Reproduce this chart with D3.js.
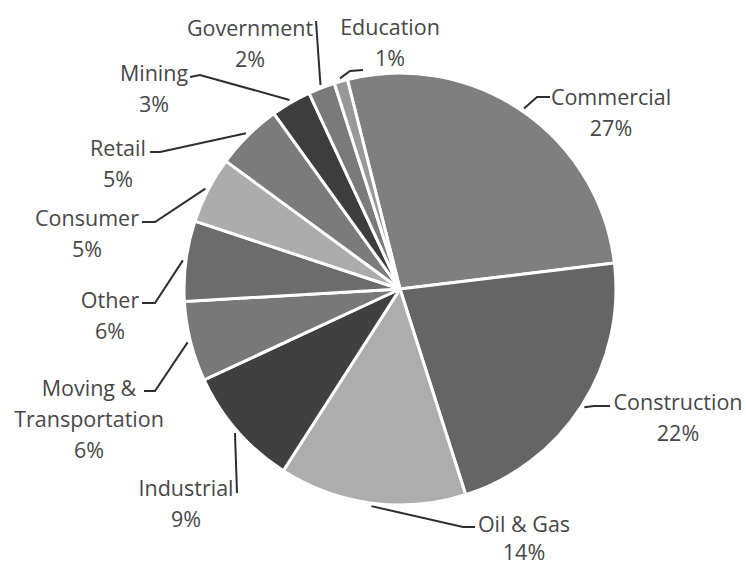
<!DOCTYPE html>
<html>
<head>
<meta charset="utf-8">
<script src="https://cdn.jsdelivr.net/npm/d3@7"></script>
<style>
  body { margin: 0; background: #fff; }
  svg { display: block; }
  .lbl { font-family: "Open Sans", sans-serif; font-size: 21.5px; fill: #474747; }
</style>
</head>
<body>
<svg id="chart" width="746" height="568"></svg>
<script>
// data
const categories = ['Commercial', 'Construction', 'Oil & Gas', 'Industrial', 'Moving & Transportation',
    'Other', 'Consumer', 'Retail', 'Mining', 'Government', 'Education']
const shares = [27, 22, 14, 9, 6, 6, 5, 5, 3, 2, 1]
const fills = ['#7f7f7f', '#656565', '#adadad', '#404040', '#787878',
    '#6c6c6c', '#acacac', '#7b7b7b', '#3d3d3d', '#7a7a7a', '#989898']

// label layout: text lines, centre of first line, line gap, and leader points on the label side
const labelLayout = {
    'Commercial': { lines: ['Commercial', '27%'], x: 611, y: 96, pts: [[550, 97], [537, 97]] },
    'Construction': { lines: ['Construction', '22%'], x: 678, y: 401, pts: [[610, 406], [594, 406]] },
    'Oil & Gas': { lines: ['Oil & Gas', '14%'], x: 524, y: 523, gap: 28, pts: [[475, 527], [463, 527]] },
    'Industrial': { lines: ['Industrial', '9%'], x: 186, y: 487, pts: [[237, 493]] },
    'Moving & Transportation': { lines: ['Moving &', 'Transportation', '6%'], x: 89, y: 387, pts: [[144, 391], [155, 391]] },
    'Other': { lines: ['Other', '6%'], x: 110, y: 299, pts: [[142, 303], [155, 303]] },
    'Consumer': { lines: ['Consumer', '5%'], x: 87, y: 217, pts: [[142, 222], [155, 222]] },
    'Retail': { lines: ['Retail', '5%'], x: 118, y: 147, pts: [[150, 152], [160, 152]] },
    'Mining': { lines: ['Mining', '3%'], x: 154, y: 72, pts: [[190, 77], [200, 75]] },
    'Government': { lines: ['Government', '2%'], x: 250, y: 27, pts: [[316, 21]] },
    'Education': { lines: ['Education', '1%'], x: 390, y: 26, pts: [[363, 70], [350, 71]] }
}

const svg = d3.select('#chart')
const cx = 400, cy = 289, radius = 216
const lineGap = 31

const rows = categories.map((c, i) => ({ name: c, value: shares[i], fill: fills[i] }))

const pie = d3.pie()
    .sort(null)
    .value(d => d.value)
    .startAngle(-14.1 * Math.PI / 180)
    .endAngle((360 - 14.1) * Math.PI / 180)

const arc = d3.arc().innerRadius(0).outerRadius(radius)

const arcs = pie(rows)

const g = svg.append('g').attr('transform', `translate(${cx}, ${cy})`)

g.selectAll('path')
    .data(arcs)
    .enter()
    .append('path')
    .attr('d', arc)
    .attr('fill', d => d.data.fill)
    .attr('stroke', '#fff')
    .attr('stroke-width', 3)
    .attr('stroke-linejoin', 'round')

// leader lines
const edgePoint = d => {
    const a = (d.startAngle + d.endAngle) / 2
    const r = radius + 3
    return [cx + r * Math.sin(a), cy - r * Math.cos(a)]
}

const line = d3.line()
svg.selectAll('path.leader')
    .data(arcs)
    .enter()
    .append('path')
    .attr('class', 'leader')
    .attr('d', d => line([...labelLayout[d.data.name].pts, edgePoint(d)]))
    .attr('fill', 'none')
    .attr('stroke', '#2e2e2e')
    .attr('stroke-width', 2)

// labels
const labels = svg.selectAll('text.lbl')
    .data(arcs)
    .enter()
    .append('text')
    .attr('class', 'lbl')
    .attr('text-anchor', 'middle')

labels.each(function (d) {
    const lay = labelLayout[d.data.name]
    const gap = lay.gap || lineGap
    d3.select(this)
        .selectAll('tspan')
        .data(lay.lines)
        .enter()
        .append('tspan')
        .attr('x', lay.x)
        .attr('y', (t, i) => lay.y + i * gap)
        .attr('dominant-baseline', 'central')
        .text(t => t)
})
</script>
</body>
</html>
